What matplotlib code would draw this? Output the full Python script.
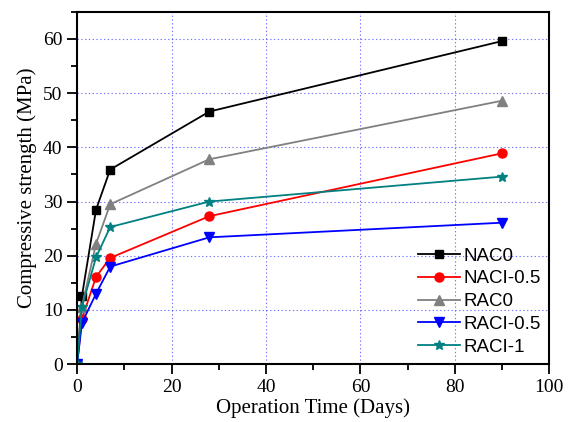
import matplotlib.pyplot as plt
from matplotlib.ticker import MultipleLocator

days = [0, 1, 4, 7, 28, 90]
nac0 = [0, 12.5, 28.5, 35.9, 46.6, 59.6]
naci05 = [0, 8.3, 16.1, 19.6, 27.3, 38.9]
rac0 = [0, 10.6, 22.2, 29.5, 37.8, 48.6]
raci05 = [0, 7.6, 13.0, 18.0, 23.4, 26.1]
raci1 = [0, 10.5, 19.7, 25.3, 30.0, 34.6]

plt.rcParams['font.family'] = 'Liberation Serif'

fig = plt.figure(figsize=(5.8, 4.22), dpi=100)
ax = fig.add_axes([0.133, 0.137, 0.814, 0.835])

ax.plot(days, nac0, '-s', color='black', lw=1.3, ms=6, label='NAC0')
ax.plot(days, naci05, '-o', color='red', lw=1.3, ms=6.5, label='NACI-0.5')
ax.plot(days, rac0, '-^', color='gray', lw=1.3, ms=7, label='RAC0')
ax.plot(days, raci05, '-v', color='blue', lw=1.3, ms=7, label='RACI-0.5')
ax.plot(days, raci1, '-*', color='teal', lw=1.3, ms=7.5, label='RACI-1')

ax.set_xlim(0, 100)
ax.set_ylim(0, 65)
ax.xaxis.set_major_locator(MultipleLocator(20))
ax.xaxis.set_minor_locator(MultipleLocator(10))
ax.yaxis.set_major_locator(MultipleLocator(10))
ax.yaxis.set_minor_locator(MultipleLocator(5))
ax.grid(True, which='major', color='blue', ls=(0, (1.2, 2.2)), lw=0.8, alpha=0.55)
ax.tick_params(which='major', direction='out', length=7, width=1.3, labelsize=14)
ax.tick_params(which='minor', direction='out', length=4, width=1.3)
for s in ax.spines.values():
    s.set_linewidth(1.5)

ax.set_xlabel('Operation Time (Days)', fontsize=15, labelpad=2)
ax.set_ylabel('Compressive strength (MPa)', fontsize=15, labelpad=4)

ax.legend(loc='lower right', bbox_to_anchor=(1.0, 0.0), frameon=False,
          prop={'family': 'Liberation Sans', 'size': 13.5}, handlelength=2.2,
          handletextpad=0.2, labelspacing=0.3, borderaxespad=0.05)

fig.savefig('out.png', dpi=100)
